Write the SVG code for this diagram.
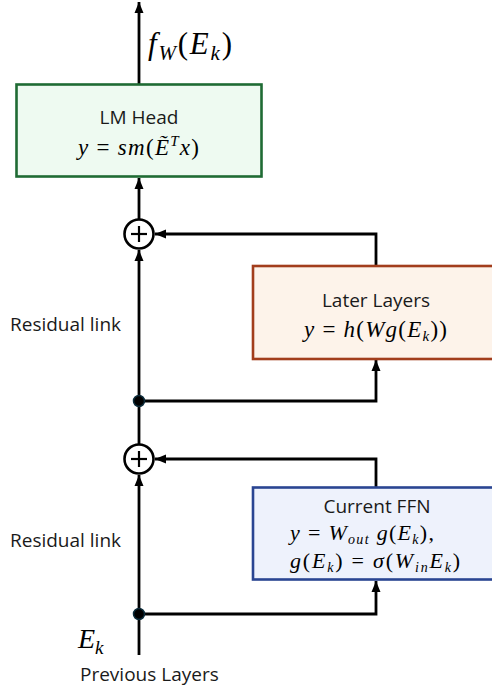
<svg xmlns="http://www.w3.org/2000/svg" width="492" height="690" viewBox="0 0 492 690">
<defs>
<marker id="ah" markerUnits="userSpaceOnUse" markerWidth="12" markerHeight="12" viewBox="0 0 12 12" refX="11" refY="6" orient="auto">
<path d="M0,1.5 L11,6 L0,10.5 Z" fill="#000"/>
</marker>
<style>
.ln{fill:none;stroke:#000;stroke-width:2.8;}
.lbl{font-family:"Open Sans","Liberation Sans",sans-serif;font-size:19px;fill:#1a1a1a;}
.ttl{font-family:"Open Sans","Liberation Sans",sans-serif;font-size:19px;fill:#1a1a1a;text-anchor:middle;}
.m{font-family:"Liberation Serif","DejaVu Serif",serif;font-size:23px;fill:#000;}
.i{font-style:italic;}
.dot{fill:#000;stroke:#0b2b3a;stroke-width:1.5;}
.sum{fill:#fff;stroke:#000;stroke-width:2.6;}
.plus{stroke:#000;stroke-width:2.2;}
</style>
</defs>
<rect width="492" height="690" fill="#fff"/>

<g id="connectors">
<line class="ln" x1="139" y1="84" x2="139" y2="2" marker-end="url(#ah)"/>
<line class="ln" x1="139" y1="219" x2="139" y2="178" marker-end="url(#ah)"/>
<line class="ln" x1="139" y1="445" x2="139" y2="250" marker-end="url(#ah)"/>
<line class="ln" x1="139" y1="655" x2="139" y2="475" marker-end="url(#ah)"/>
<polyline class="ln" points="139,401 376,401 376,360" marker-end="url(#ah)"/>
<polyline class="ln" points="376,266 376,234 155,234" marker-end="url(#ah)"/>
<polyline class="ln" points="139,614 376,614 376,581" marker-end="url(#ah)"/>
<polyline class="ln" points="376,487 376,459 155,459" marker-end="url(#ah)"/>
</g>

<g id="lmhead">
<rect x="16.5" y="84.5" width="245" height="92" fill="#eefaf1" stroke="#1f6b34" stroke-width="2.6"/>
<text class="ttl" x="139" y="124">LM Head</text>
<text class="m" x="78" y="155" textLength="121" lengthAdjust="spacing"><tspan class="i">y</tspan> = <tspan class="i">sm</tspan>(<tspan class="i">Ẽ</tspan><tspan class="i" font-size="15" dy="-9">T</tspan><tspan class="i" dy="9">x</tspan>)</text>
</g>

<g id="output-label">
<text class="m" x="148" y="54" style="font-size:31px" textLength="84" lengthAdjust="spacing"><tspan class="i">f</tspan><tspan class="i" font-size="21" dy="6">W</tspan><tspan dy="-6">(</tspan><tspan class="i">E</tspan><tspan class="i" font-size="21" dy="6">k</tspan><tspan dy="-6">)</tspan></text>
</g>

<g id="sum1">
<circle class="sum" cx="139" cy="234" r="14.5"/>
<line class="plus" x1="131" y1="234" x2="147" y2="234"/>
<line class="plus" x1="139" y1="226" x2="139" y2="242"/>
</g>

<g id="later-layers">
<rect x="253" y="266" width="250" height="93" fill="#fdf3ea" stroke="#a23d1c" stroke-width="2.6"/>
<text class="ttl" x="376" y="307">Later Layers</text>
<text class="m" x="304" y="337" textLength="143" lengthAdjust="spacing"><tspan class="i">y</tspan> = <tspan class="i">h</tspan>(<tspan class="i">Wg</tspan>(<tspan class="i">E</tspan><tspan class="i" font-size="15" dy="4">k</tspan><tspan dy="-4">))</tspan></text>
</g>

<g id="dot1"><circle class="dot" cx="139" cy="401" r="5.5"/></g>

<g id="sum2">
<circle class="sum" cx="139" cy="459" r="14.5"/>
<line class="plus" x1="131" y1="459" x2="147" y2="459"/>
<line class="plus" x1="139" y1="451" x2="139" y2="467"/>
</g>

<g id="current-ffn">
<rect x="253" y="487.5" width="250" height="92" fill="#eef2fc" stroke="#2a4592" stroke-width="2.6"/>
<text class="ttl" x="377" y="513">Current FFN</text>
<text class="m" x="290" y="540" style="font-size:22px" textLength="144" lengthAdjust="spacing"><tspan class="i">y</tspan> = <tspan class="i">W</tspan><tspan class="i" font-size="14" dy="4">out</tspan><tspan class="i" dy="-4"> g</tspan>(<tspan class="i">E</tspan><tspan class="i" font-size="14" dy="4">k</tspan><tspan dy="-4">),</tspan></text>
<text class="m" x="290" y="568" style="font-size:22px" textLength="170" lengthAdjust="spacing"><tspan class="i">g</tspan>(<tspan class="i">E</tspan><tspan class="i" font-size="14" dy="4">k</tspan><tspan dy="-4">) = </tspan><tspan class="i">σ</tspan>(<tspan class="i">W</tspan><tspan class="i" font-size="14" dy="4">in</tspan><tspan class="i" dy="-4">E</tspan><tspan class="i" font-size="14" dy="4">k</tspan><tspan dy="-4">)</tspan></text>
</g>

<g id="dot2"><circle class="dot" cx="139" cy="614" r="5.5"/></g>

<g id="labels">
<text class="lbl" x="10" y="331">Residual link</text>
<text class="lbl" x="10" y="547">Residual link</text>
<text class="m" x="78" y="648" style="font-size:28px"><tspan class="i">E</tspan><tspan class="i" font-size="19" dy="6">k</tspan></text>
<text class="lbl" x="80" y="681">Previous Layers</text>
</g>
</svg>
